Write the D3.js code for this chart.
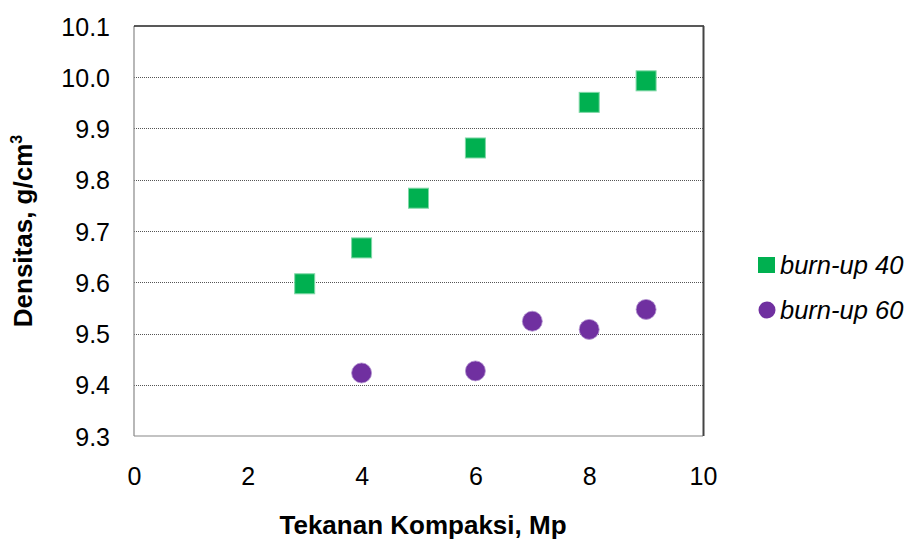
<!DOCTYPE html>
<html><head><meta charset="utf-8">
<script src="https://cdn.jsdelivr.net/npm/d3@7"></script>
<style>body{margin:0;background:#fff}svg{display:block}text{font-family:"Liberation Sans",Arial,sans-serif}</style>
</head><body><svg id="c" width="912" height="541"></svg>
<script>
const xTicks = [0, 2, 4, 6, 8, 10];
const yTicks = [9.3, 9.4, 9.5, 9.6, 9.7, 9.8, 9.9, 10.0, 10.1];
const burnup40X = [3, 4, 5, 6, 8, 9];
const burnup40Y = [9.597, 9.667, 9.764, 9.862, 9.951, 9.993];
const burnup60X = [4, 6, 7, 8, 9];
const burnup60Y = [9.423, 9.427, 9.524, 9.508, 9.547];
const seriesNames = ["burn-up 40", "burn-up 60"];
const colors = ["#00B050", "#7030A0"];

const svg = d3.select("#c");
const L = 134, R = 703, T = 26, B = 436;
const x = d3.scaleLinear().domain([0, 10]).range([L, R]);
const y = d3.scaleLinear().domain([9.3, 10.1]).range([B, T]);

// gridlines
svg.append("g").selectAll("line").data(yTicks.slice(1, -1)).join("line")
  .attr("x1", L).attr("x2", R).attr("y1", d => Math.round(y(d)) + 0.5).attr("y2", d => Math.round(y(d)) + 0.5)
  .attr("stroke", "#555").attr("stroke-width", 1).attr("stroke-dasharray", "1,1");

// frame
svg.append("line").attr("x1", L).attr("x2", L).attr("y1", T).attr("y2", B).attr("stroke", "#888").attr("stroke-width", 1.2);
svg.append("line").attr("x1", L).attr("x2", R).attr("y1", B).attr("y2", B).attr("stroke", "#888").attr("stroke-width", 1.2);
svg.append("line").attr("x1", L).attr("x2", R + 1).attr("y1", T).attr("y2", T).attr("stroke", "#222").attr("stroke-width", 1.3);
svg.append("line").attr("x1", R + 0.5).attr("x2", R + 0.5).attr("y1", T).attr("y2", B).attr("stroke", "#444").attr("stroke-width", 2);

// axes
const xAxis = d3.axisBottom(x).tickValues(xTicks).tickSize(0).tickPadding(0).tickFormat(d3.format("d"));
const gx = svg.append("g").attr("transform", `translate(0,${B})`).call(xAxis);
gx.select(".domain").remove();
gx.selectAll("text").attr("dy", null).attr("y", 48.5).attr("font-size", 25).attr("fill", "#000")
  .attr("font-family", "Liberation Sans, Arial, sans-serif");

const yAxis = d3.axisLeft(y).tickValues(yTicks).tickSize(0).tickPadding(0).tickFormat(d3.format(".1f"));
const gy = svg.append("g").attr("transform", `translate(${L},0)`).call(yAxis);
gy.select(".domain").remove();
gy.selectAll("text").attr("x", -24).attr("dy", "0.36em").attr("font-size", 25).attr("fill", "#000")
  .attr("font-family", "Liberation Sans, Arial, sans-serif");

// series
const s40 = burnup40X.map((v, i) => ({x: v, y: burnup40Y[i]}));
const s60 = burnup60X.map((v, i) => ({x: v, y: burnup60Y[i]}));
const sq = 20;
svg.append("g").selectAll("rect").data(s40).join("rect")
  .attr("x", d => x(d.x) - sq / 2).attr("y", d => y(d.y) - sq / 2).attr("width", sq).attr("height", sq)
  .attr("fill", colors[0]).attr("stroke", "#7fd8a6").attr("stroke-width", 1);
svg.append("g").selectAll("circle").data(s60).join("circle")
  .attr("cx", d => x(d.x)).attr("cy", d => y(d.y)).attr("r", 10)
  .attr("fill", colors[1]).attr("stroke", "#b393cf").attr("stroke-width", 0.8);

// axis titles
svg.append("text").attr("x", 423).attr("y", 534).attr("text-anchor", "middle")
  .attr("font-size", 26).attr("font-weight", "bold").text("Tekanan Kompaksi, Mp");
const yt = svg.append("text").attr("transform", "translate(32,231) rotate(-90)").attr("text-anchor", "middle")
  .attr("font-size", 26).attr("font-weight", "bold");
yt.append("tspan").text("Densitas, g/cm");
yt.append("tspan").attr("font-size", 16).attr("dy", -10).text("3");

// legend
const lg = svg.append("g");
lg.append("rect").attr("x", 758).attr("y", 257).attr("width", 17).attr("height", 16).attr("fill", colors[0]);
lg.append("circle").attr("cx", 767).attr("cy", 310).attr("r", 8.5).attr("fill", colors[1]);
lg.selectAll("text").data(seriesNames).join("text")
  .attr("x", 780).attr("y", (d, i) => 274 + i * 45)
  .attr("font-size", 25.5).attr("font-style", "italic").attr("fill", "#000").text(d => d);
</script></body></html>
